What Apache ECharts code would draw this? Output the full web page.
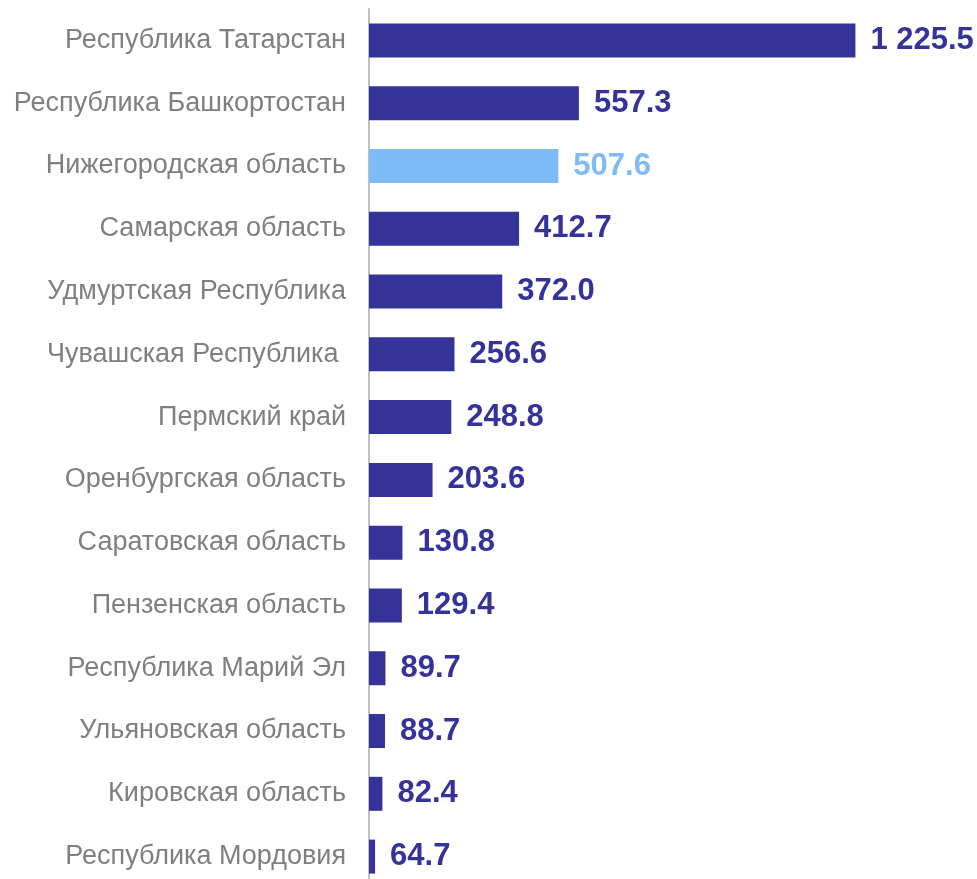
<!DOCTYPE html>
<html>
<head>
<meta charset="utf-8">
<script src="https://cdn.jsdelivr.net/npm/echarts@6/dist/echarts.min.js"></script>
<style>
  html, body { margin: 0; padding: 0; background: #fff; overflow: hidden; }
  #main { width: 977px; height: 890px; }
</style>
</head>
<body>
<div id="main"></div>
<script>
  // регионы сверху вниз
  var regions = [
    'Республика Татарстан',
    'Республика Башкортостан',
    'Нижегородская область',
    'Самарская область',
    'Удмуртская Республика',
    'Чувашская Республика ',
    'Пермский край',
    'Оренбургская область',
    'Саратовская область',
    'Пензенская область',
    'Республика Марий Эл',
    'Ульяновская область',
    'Кировская область',
    'Республика Мордовия'
  ];
  var values = [1225.5, 557.3, 507.6, 412.7, 372.0, 256.6, 248.8, 203.6, 130.8, 129.4, 89.7, 88.7, 82.4, 64.7];
  var highlighted = ['Нижегородская область'];

  var darkBlue = '#35339a';
  var lightBlue = '#7fbaf9';
  var font = "'Liberation Sans', Arial, sans-serif";

  function fmt(v) {
    var s = v.toFixed(1).split('.');
    return s[0].replace(/\B(?=(\d{3})+(?!\d))/g, ' ') + '.' + s[1];
  }

  var barData = values.map(function (v, i) {
    var hl = highlighted.indexOf(regions[i]) >= 0;
    return {
      value: v,
      itemStyle: { color: hl ? lightBlue : darkBlue },
      label: { color: hl ? lightBlue : darkBlue }
    };
  });

  var option = {
    animation: false,
    grid: { left: 369, right: 8, top: 9, height: 879 },
    xAxis: {
      type: 'value',
      min: 50,
      max: 1500,
      show: false
    },
    yAxis: {
      type: 'category',
      inverse: true,
      data: regions,
      axisLine: { show: true, lineStyle: { color: '#c0c0c0', width: 2 } },
      axisTick: { show: false },
      axisLabel: {
        margin: 23,
        color: '#7f7f7f',
        fontSize: 27,
        fontFamily: font
      }
    },
    series: [{
      type: 'bar',
      barWidth: 34,
      data: barData,
      label: {
        show: true,
        position: 'right',
        distance: 15,
        fontSize: 31,
        fontWeight: 'bold',
        fontFamily: font,
        formatter: function (p) { return fmt(p.value); }
      }
    }]
  };

  var myChart = echarts.init(document.getElementById('main'));
  myChart.setOption(option);
</script>
</body>
</html>
